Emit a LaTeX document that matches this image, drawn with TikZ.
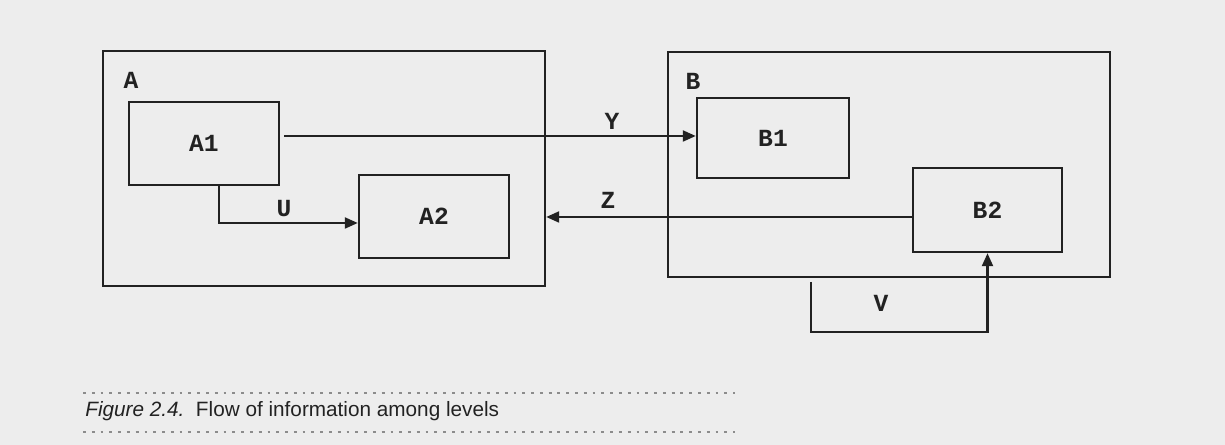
\documentclass[tikz,border=0pt]{standalone}
\usepackage{fontspec}
\setmainfont{Liberation Sans}
\newfontfamily\boxfont{Liberation Mono}
\usetikzlibrary{arrows.meta,positioning,calc}
\definecolor{Paper}{HTML}{EDEDED}
\definecolor{Ink}{HTML}{222222}
\definecolor{Dots}{HTML}{8C8C8C}
\tikzset{level/.style={draw=Ink,line width=1.4pt,minimum width=8.84cm,inner sep=0pt},unit/.style={draw=Ink,line width=1.4pt,minimum width=3cm,minimum height=1.66cm,font=\boxfont\bfseries\fontsize{14}{16}\selectfont,text=Ink},flow/.style={-{Triangle[length=2.6mm,width=2.2mm]},line width=1.3pt,draw=Ink},lab/.style={font=\boxfont\bfseries\fontsize{14}{16}\selectfont,text=Ink,inner sep=0pt},rule/.style={draw=Dots,line width=.8pt,dash pattern=on 1.6pt off 3.4pt}}

\begin{document}
\begin{tikzpicture}
\useasboundingbox[fill=Paper] (0,0) rectangle (24.5,8.9);
\node[level,minimum height=4.7cm] (A) at (6.48,5.53) {};
\node[level,minimum height=4.5cm] (B) at (17.78,5.61) {};
\node[lab] (Alab) at (2.62,7.3) {A};
\node[lab] (Blab) at (13.86,7.28) {B};
\node[unit] (A1) at (4.08,6.03) {A1};
\node[unit] (A2) at (8.68,4.57) {A2};
\node[unit,minimum width=3.04cm,minimum height=1.6cm] (B1) at (15.46,6.14) {B1};
\node[unit,minimum width=2.98cm,minimum height=1.68cm] (B2) at (19.75,4.70) {B2};

\coordinate (vstart) at (16.22,3.26);
\draw[flow] ($(A1.south west)!.6!(A1.south east)$) |- ([yshift=-.13cm]A2.west);
\draw[flow] ([xshift=.08cm,yshift=.15cm]A1.east) -- ([yshift=.15cm]A1.east -| B1.west);
\draw[flow] ([yshift=-.14cm]B2.west) -- ([yshift=-.14cm]B2.west -| A.east);
\draw[flow] (vstart) -- ++(0,-1) -| (B2.south);
\node[lab] (U) at (5.68,4.72) {U};
\node[lab] (Y) at (12.24,6.48) {Y};
\node[lab] (Z) at (12.16,4.9) {Z};
\node[lab] (V) at (17.62,2.84) {V};

\draw[rule] (1.66,1.04) -- (14.7,1.04);
\node[anchor=west,font=\fontsize{11.8}{14}\selectfont,text=Ink,inner sep=0pt] (caption) at (1.7,0.68)
  {\textit{Figure 2.4.}\ \ Flow of information among levels};
\draw[rule] (1.66,0.26) -- (14.7,0.26);
\end{tikzpicture}
\end{document}
